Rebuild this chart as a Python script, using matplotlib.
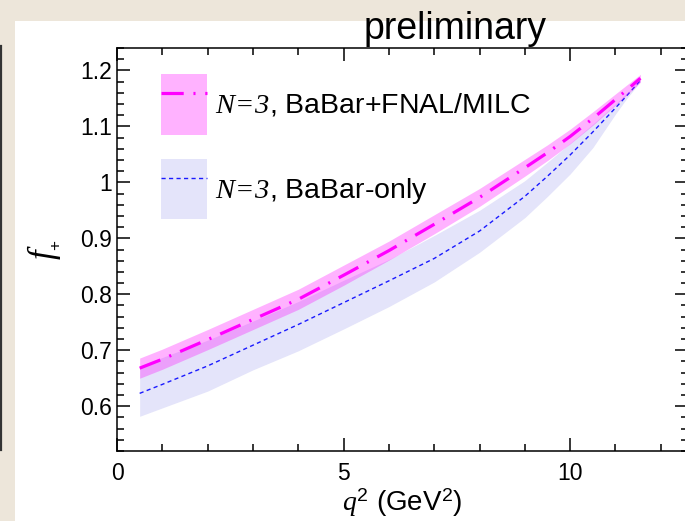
"""Form factor f+(q^2) for B -> D l nu: combined fit vs BaBar-only fit (preliminary)."""

import matplotlib

matplotlib.use("Agg")
import matplotlib.pyplot as plt
from matplotlib.lines import Line2D
from matplotlib.patches import Patch, Rectangle
from matplotlib.ticker import FuncFormatter, MultipleLocator

plt.rcParams["font.family"] = ["Liberation Sans", "DejaVu Sans"]
plt.rcParams["mathtext.fontset"] = "custom"
plt.rcParams["mathtext.it"] = "Liberation Serif:italic"
plt.rcParams["mathtext.rm"] = "Liberation Sans"
# \mathsf is (ab)used for the all-italic serif "N=3" in the legend
plt.rcParams["mathtext.sf"] = "Liberation Serif:italic"
plt.rcParams["lines.scale_dashes"] = False

# q^2 grid (GeV^2) the curves were read at
Q2 = [0.5, 1, 2, 3, 4, 5, 6, 7, 8, 9, 9.5, 10, 10.5, 11, 11.25, 11.55]

# N=3, BaBar+FNAL/MILC
COMBINED_CENTRAL = [0.668, 0.684, 0.719, 0.755, 0.791, 0.834, 0.878, 0.925,
                    0.973, 1.026, 1.053, 1.082, 1.114, 1.148, 1.165, 1.186]
COMBINED_LOW = [0.650, 0.666, 0.701, 0.737, 0.773, 0.816, 0.861, 0.908,
                0.957, 1.011, 1.039, 1.069, 1.102, 1.138, 1.156, 1.179]
COMBINED_HIGH = [0.686, 0.702, 0.737, 0.773, 0.809, 0.852, 0.895, 0.942,
                 0.989, 1.041, 1.067, 1.095, 1.126, 1.158, 1.174, 1.193]

# N=3, BaBar-only
BABAR_CENTRAL = [0.623, 0.639, 0.672, 0.709, 0.746, 0.785, 0.824, 0.864,
                 0.913, 0.975, 1.011, 1.049, 1.090, 1.133, 1.155, 1.182]
BABAR_LOW = [0.582, 0.597, 0.627, 0.665, 0.699, 0.738, 0.778, 0.822,
             0.875, 0.937, 0.975, 1.015, 1.062, 1.122, 1.150, 1.180]
BABAR_HIGH = [0.672, 0.687, 0.718, 0.752, 0.787, 0.825, 0.862, 0.905,
              0.950, 1.003, 1.036, 1.070, 1.104, 1.140, 1.160, 1.183]

LABEL_COMBINED = r"$\mathsf{N\!=\!3}$, BaBar+FNAL/MILC"
LABEL_BABAR = r"$\mathsf{N\!=\!3}$, BaBar-only"

W, H = 685, 521
PINK = "#ff00ff"
LAVENDER = "#e4e4fa"
BLUE = "#1a1aff"
DASHDOT = (0, (16, 7, 1.5, 7))
SHORTDASH = (0, (3, 2.4))


def main() -> None:
    fig = plt.figure(figsize=(W / 100, H / 100), dpi=100)
    fig.patch.set_facecolor("#ede6da")
    # white slide panel + dark edge of the neighbouring element
    fig.add_artist(Rectangle((15 / W, 0), 1, 1 - 21 / H, transform=fig.transFigure,
                             facecolor="white", edgecolor="none", zorder=-1))
    fig.add_artist(Line2D([1 / W, 1 / W], [1 - 46 / H, 1 - 450 / H],
                          transform=fig.transFigure, color="#333333", lw=1.6))

    ax = fig.add_axes([117 / W, 70 / H, 571 / W, 403 / H])
    ax.set_facecolor("none")

    ax.fill_between(Q2, BABAR_LOW, BABAR_HIGH, color=LAVENDER, lw=0, zorder=1)
    ax.plot(Q2, BABAR_CENTRAL, color=BLUE, lw=1.0, linestyle=SHORTDASH, zorder=2)
    ax.fill_between(Q2, COMBINED_LOW, COMBINED_HIGH, color=PINK,
                    alpha=0.3, lw=0, zorder=3)
    ax.plot(Q2, COMBINED_CENTRAL, color=PINK, lw=2.3, linestyle=DASHDOT, zorder=4)

    ax.set_xlim(0, 12.6)
    ax.set_ylim(0.52, 1.24)
    ax.xaxis.set_major_locator(MultipleLocator(5))
    ax.xaxis.set_minor_locator(MultipleLocator(1))
    ax.yaxis.set_major_locator(MultipleLocator(0.1))
    ax.yaxis.set_minor_locator(MultipleLocator(0.02))
    ax.yaxis.set_major_formatter(FuncFormatter(lambda v, _: f"{v:g}"))
    ax.tick_params(which="both", direction="in", top=True, right=True,
                   width=1.1, labelsize=16.5)
    ax.tick_params(which="major", length=9.4)
    ax.tick_params(which="minor", length=5)
    ax.tick_params(axis="x", pad=8)
    ax.tick_params(axis="y", pad=3.6)
    for sp in ax.spines.values():
        sp.set_linewidth(1.1)

    ax.set_xlabel(r"$q^{2}$ (GeV$^{2}$)", fontsize=20, labelpad=1)
    ax.set_ylabel(r"$f_{{}_{+}}$", fontsize=25, rotation=90, labelpad=12)

    handles = [
        (Patch(facecolor=PINK, alpha=0.3, lw=0),
         Line2D([], [], color=PINK, lw=2.3, linestyle=DASHDOT)),
        (Patch(facecolor=LAVENDER, lw=0),
         Line2D([], [], color=BLUE, lw=1.0, linestyle=SHORTDASH)),
    ]
    ax.legend(handles, [LABEL_COMBINED, LABEL_BABAR], loc="upper left",
              bbox_to_anchor=(44 / 571, 1 - 26 / 403), frameon=False,
              fontsize=20.5, handlelength=1.62, handleheight=2.9,
              labelspacing=0.85, handletextpad=0.28, borderpad=0,
              borderaxespad=0)

    fig.text(455 / W, 1 - 39 / H, "preliminary", ha="center", va="baseline",
             fontsize=27)

    fig.savefig("out.png", dpi=100, facecolor=fig.get_facecolor())
    plt.close(fig)


if __name__ == "__main__":
    main()
